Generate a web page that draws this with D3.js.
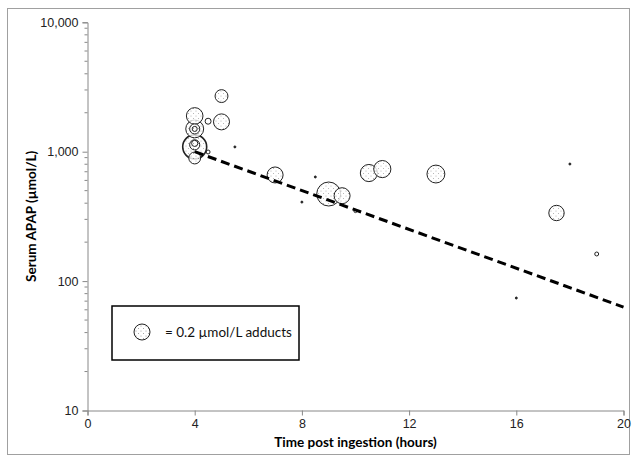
<!DOCTYPE html>
<html lang="en">
<head>
<meta charset="utf-8">
<title>Serum APAP vs time</title>
<script src="https://cdn.jsdelivr.net/npm/d3@7"></script>
<style>
    body { margin: 0; background: #fff; }
    svg { display: block; font-family: Lato, "Open Sans", sans-serif; }
</style>
</head>
<body>
<div id="chart"></div>
<script>
// hours post ingestion, serum APAP (umol/L), adducts (umol/L) -> bubble size
var hours   = [4, 4, 4, 4, 4, 4, 4, 4, 4.5, 5, 5, 7, 9, 9.5, 10.5, 11, 13, 17.5, 4.5, 10, 19, 5.5, 8, 8.5, 18, 16];
var apap    = [1890, 1500, 1500, 1090, 1130, 1160, 894, 1500, 1720, 1700, 2690, 661, 471, 457, 684, 734, 672, 336, 995, 348, 162, 1089, 408, 638, 803, 74];
var adducts = [0.215, 0.25, 0.08, 0.45, 0.08, 0.03, 0.11, 0.02, 0.028, 0.2, 0.13, 0.2, 0.45, 0.2, 0.23, 0.23, 0.25, 0.185, 0.012, 0.008, 0.012, 0.003, 0.003, 0.003, 0.003, 0.003];

// dashed decay line
var lineHours = [4, 20];
var lineApap  = [1000, 63];

var xTicks = [0, 4, 8, 12, 16, 20];
var yMajor = [10, 100, 1000, 10000];
var legendAdduct = 0.2;

var width = 632, height = 462;
var margin = {left: 87.5, right: 8.5, top: 22.3, bottom: 51.5};

var svg = d3.select("#chart").append("svg")
    .attr("width", width)
    .attr("height", height);

// dotted fill for the bubbles
var defs = svg.append("defs");
var pat = defs.append("pattern")
    .attr("id", "dots")
    .attr("patternUnits", "userSpaceOnUse")
    .attr("width", 5)
    .attr("height", 5);
pat.append("rect").attr("width", 5).attr("height", 5).attr("fill", "#fff");
pat.append("circle").attr("cx", 1).attr("cy", 1).attr("r", 0.55).attr("fill", "#999");
pat.append("circle").attr("cx", 3.5).attr("cy", 3.5).attr("r", 0.55).attr("fill", "#999");

// outer frame
svg.append("rect")
    .attr("x", 7.5).attr("y", 8.5)
    .attr("width", 622).attr("height", 446)
    .attr("fill", "none")
    .attr("stroke", "#a0a0a0");

var x = d3.scaleLinear().domain([0, 20]).range([margin.left, width - margin.right]);
var y = d3.scaleLog().domain([10, 10000]).range([height - margin.bottom, margin.top]);
var r = d3.scaleSqrt().domain([0, legendAdduct]).range([0, 8]);

// y axis
var yAxis = d3.axisLeft(y)
    .tickValues(yMajor)
    .tickFormat(d3.format(","))
    .tickSize(5)
    .tickPadding(4);
var gy = svg.append("g")
    .attr("transform", "translate(" + margin.left + ",0)")
    .call(yAxis);

// minor log ticks
var minor = [];
[10, 100, 1000].forEach(function(dec) {
    for (var k = 2; k <= 9; k++) minor.push(dec * k);
});
gy.selectAll(".minor")
    .data(minor)
    .enter().append("line")
    .attr("class", "minor")
    .attr("x1", -3).attr("x2", 0)
    .attr("y1", function(d) { return y(d); })
    .attr("y2", function(d) { return y(d); })
    .attr("stroke", "#888");

// x axis
var xAxis = d3.axisBottom(x)
    .tickValues(xTicks)
    .tickSize(5)
    .tickPadding(4);
var gx = svg.append("g")
    .attr("transform", "translate(0," + (height - margin.bottom) + ")")
    .call(xAxis);

[gx, gy].forEach(function(g) {
    g.selectAll(".domain").attr("stroke", "#888");
    g.selectAll(".tick line").attr("stroke", "#888");
    g.selectAll("text").attr("fill", "#222").style("font-size", "12.5px");
});

// axis titles
svg.append("text")
    .attr("x", (margin.left + width - margin.right) / 2)
    .attr("y", 447)
    .attr("text-anchor", "middle")
    .style("font-size", "13.5px")
    .style("font-weight", "bold")
    .text("Time post ingestion (hours)");

svg.append("text")
    .attr("transform", "translate(36," + ((margin.top + height - margin.bottom) / 2) + ") rotate(-90)")
    .attr("text-anchor", "middle")
    .style("font-size", "13.5px")
    .style("font-weight", "bold")
    .text("Serum APAP (\u00b5mol/L)");

// bubbles
var pts = hours.map(function(h, i) { return {t: h, v: apap[i], a: adducts[i]}; });
pts.sort(function(a, b) { return b.a - a.a; });

svg.append("g").selectAll("circle")
    .data(pts)
    .enter().append("circle")
    .attr("cx", function(d) { return x(d.t); })
    .attr("cy", function(d) { return y(d.v); })
    .attr("r", function(d) { return Math.max(r(d.a), 1); })
    .attr("fill", function(d) { return r(d.a) > 3 ? "url(#dots)" : (r(d.a) < 1.5 ? "#222" : "none"); })
    .attr("fill-opacity", function(d) { return r(d.a) > 3 ? 0.8 : 1; })
    .attr("stroke", "#222")
    .attr("stroke-width", function(d) { return d.a >= 0.4 && d.t == 4 ? 1.6 : 1; });

// dashed line
var line = d3.line()
    .x(function(d) { return x(d[0]); })
    .y(function(d) { return y(d[1]); });
svg.append("path")
    .datum(lineHours.map(function(h, i) { return [h, lineApap[i]]; }))
    .attr("d", line)
    .attr("fill", "none")
    .attr("stroke", "#000")
    .attr("stroke-width", 3)
    .attr("stroke-dasharray", "9,5");

// legend
var lg = svg.append("g");
lg.append("rect")
    .attr("x", 112).attr("y", 306)
    .attr("width", 187).attr("height", 54)
    .attr("fill", "#fff")
    .attr("stroke", "#000")
    .attr("stroke-width", 1.5);
lg.append("circle")
    .attr("cx", 142).attr("cy", 332)
    .attr("r", r(legendAdduct))
    .attr("fill", "url(#dots)")
    .attr("stroke", "#222");
lg.append("text")
    .attr("x", 165).attr("y", 337)
    .style("font-size", "13.5px")
    .attr("fill", "#111")
    .text("= 0.2 \u00b5mol/L adducts");
</script>
</body>
</html>
